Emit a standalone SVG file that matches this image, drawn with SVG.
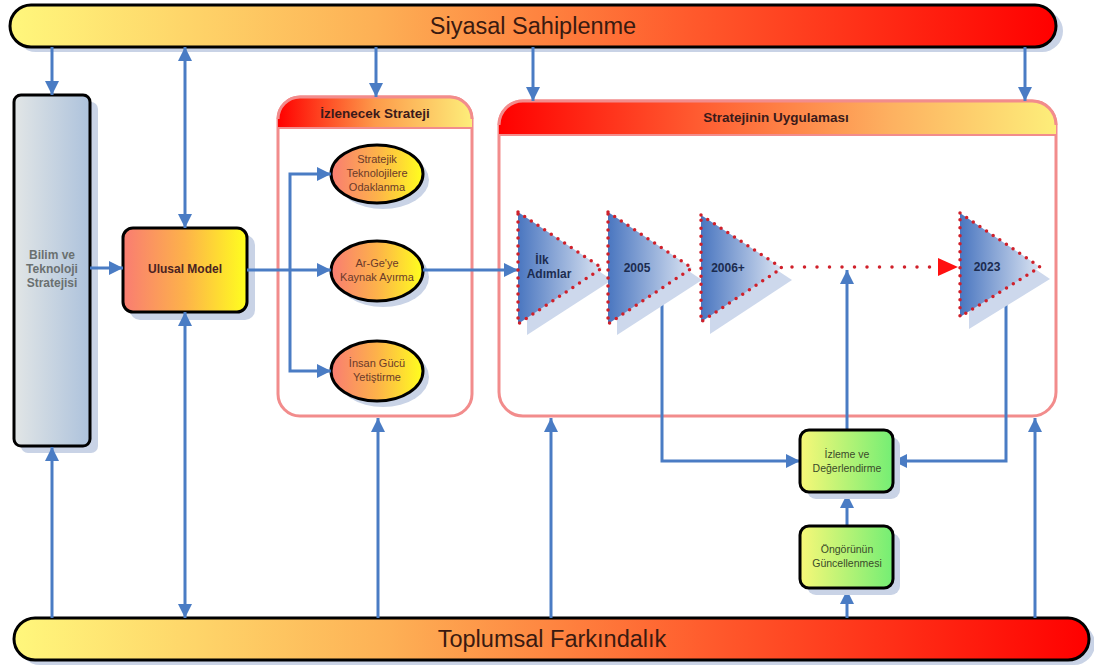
<svg xmlns="http://www.w3.org/2000/svg" width="1094" height="666" viewBox="0 0 1094 666">
<defs>
<linearGradient id="bar" x1="0" y1="0" x2="1" y2="0">
<stop offset="0" stop-color="#fff77c"/><stop offset="0.35" stop-color="#fdb055"/><stop offset="0.65" stop-color="#ff5a2c"/><stop offset="1" stop-color="#ff0000"/>
</linearGradient>
<linearGradient id="gray" x1="0" y1="0" x2="1" y2="0">
<stop offset="0" stop-color="#e2e6e6"/><stop offset="1" stop-color="#adc2dc"/>
</linearGradient>
<linearGradient id="warm" x1="0" y1="0" x2="1" y2="0">
<stop offset="0" stop-color="#f97c72"/><stop offset="0.5" stop-color="#fdb24a"/><stop offset="1" stop-color="#ffff1e"/>
</linearGradient>
<linearGradient id="green" x1="0" y1="0" x2="1" y2="0">
<stop offset="0" stop-color="#f8f878"/><stop offset="1" stop-color="#74ee74"/>
</linearGradient>
<linearGradient id="hdr1" x1="0" y1="0" x2="1" y2="0">
<stop offset="0" stop-color="#ff0000"/><stop offset="0.5" stop-color="#fd9a4a"/><stop offset="1" stop-color="#fdee7a"/>
</linearGradient>
<linearGradient id="hdr2" x1="0" y1="0" x2="1" y2="0">
<stop offset="0" stop-color="#ff0000"/><stop offset="0.35" stop-color="#ff5a30"/><stop offset="0.7" stop-color="#fdb060"/><stop offset="1" stop-color="#fdee7a"/>
</linearGradient>
<linearGradient id="tri" x1="0" y1="0" x2="1" y2="0">
<stop offset="0" stop-color="#4a76c0"/><stop offset="1" stop-color="#dbe4f2"/>
</linearGradient>
<marker id="ah" viewBox="0 0 10 10" refX="10" refY="5" markerWidth="14" markerHeight="14" markerUnits="userSpaceOnUse" orient="auto-start-reverse">
<path d="M0,0 L10,5 L0,10 z" fill="#4a7cc4"/>
</marker>
<style>
.blk{stroke:#000;stroke-width:3}
.sh{fill:#c9d3e6}
.cont{fill:#fff;stroke:#f28c8c;stroke-width:3}
.outl{fill:none;stroke:#f28c8c;stroke-width:3}
.c{stroke:#4a7cc4;stroke-width:3;fill:none}
.bar{font-family:"Liberation Sans",Arial,sans-serif;font-size:23.5px;fill:#3a1a10;text-anchor:middle}
.lb{font-family:"Liberation Sans",Arial,sans-serif;font-size:12px;font-weight:bold;fill:#4a2222;text-anchor:middle}
.hd{font-family:"Liberation Sans",Arial,sans-serif;font-size:13.5px;font-weight:bold;fill:#3a1a1a;text-anchor:middle}
.gl{font-family:"Liberation Sans",Arial,sans-serif;font-size:12px;font-weight:bold;fill:#6a7070;text-anchor:middle}
.sm{font-family:"Liberation Sans",Arial,sans-serif;font-size:11px;fill:#6a3a2a;text-anchor:middle}
.gr{font-family:"Liberation Sans",Arial,sans-serif;font-size:10.5px;fill:#3a4a2a;text-anchor:middle}
.tl{font-family:"Liberation Sans",Arial,sans-serif;font-size:12px;font-weight:bold;fill:#1c2c50;text-anchor:middle}
.tri{fill:url(#tri);stroke:#d0202a;stroke-width:3.5;stroke-dasharray:0 8;stroke-linecap:round}
.trish{fill:#cdd8ec}
</style>
</defs>
<rect width="1094" height="666" fill="#fff"/>

<g id="top-bar">
<rect class="sh" x="15" y="10" width="1048" height="42" rx="21"/>
<rect class="blk" x="10" y="5" width="1046" height="42" rx="21" fill="url(#bar)"/>
<text class="bar" x="533" y="34">Siyasal Sahiplenme</text>
</g>

<g id="bottom-bar">
<rect class="sh" x="19" y="623" width="1076" height="42" rx="21"/>
<rect class="blk" x="14" y="618" width="1075" height="42" rx="21" fill="url(#bar)"/>
<text class="bar" x="552" y="647">Toplumsal Farkındalık</text>
</g>

<g id="bilim">
<rect class="sh" x="21" y="102" width="77" height="351" rx="7"/>
<rect class="blk" x="14" y="95" width="76" height="351" rx="7" fill="url(#gray)"/>
<text class="gl" x="52" y="259">Bilim ve</text>
<text class="gl" x="52" y="273">Teknoloji</text>
<text class="gl" x="52" y="287">Stratejisi</text>
</g>

<g id="ulusal-model">
<rect class="sh" x="130" y="235" width="125" height="85" rx="10"/>
<rect class="blk" x="123" y="228" width="124" height="84" rx="10" fill="url(#warm)"/>
<text class="lb" x="185" y="273">Ulusal Model</text>
</g>

<g id="izlenecek">
<rect class="cont" x="278" y="97" width="194" height="319" rx="22"/>
<path d="M278,128 V119 A22,22 0 0 1 300,97 H450 A22,22 0 0 1 472,119 V128 Z" fill="url(#hdr1)"/>
<path d="M278,128 H472" stroke="#f28c8c" stroke-width="2"/>
<path class="outl" d="M278,119 A22,22 0 0 1 300,97 H450 A22,22 0 0 1 472,119"/>
<text class="hd" x="375" y="118">İzlenecek Strateji</text>
</g>

<g id="stratejik">
<ellipse class="sh" cx="383" cy="180" rx="46" ry="29"/>
<ellipse class="blk" cx="377" cy="174" rx="46" ry="29" fill="url(#warm)"/>
<text class="sm" x="377" y="163">Stratejik</text>
<text class="sm" x="377" y="177">Teknolojilere</text>
<text class="sm" x="377" y="191">Odaklanma</text>
</g>
<g id="arge">
<ellipse class="sh" cx="383" cy="277" rx="46" ry="30"/>
<ellipse class="blk" cx="377" cy="271" rx="46" ry="30" fill="url(#warm)"/>
<text class="sm" x="377" y="267">Ar-Ge'ye</text>
<text class="sm" x="377" y="281">Kaynak Ayırma</text>
</g>
<g id="insan">
<ellipse class="sh" cx="383" cy="377" rx="46" ry="30"/>
<ellipse class="blk" cx="377" cy="371" rx="46" ry="30" fill="url(#warm)"/>
<text class="sm" x="377" y="367">İnsan Gücü</text>
<text class="sm" x="377" y="381">Yetiştirme</text>
</g>

<g id="uygulama">
<rect class="cont" x="499" y="101" width="557" height="315" rx="24"/>
<path d="M499,135 V125 A24,24 0 0 1 523,101 H1032 A24,24 0 0 1 1056,125 V135 Z" fill="url(#hdr2)"/>
<path d="M499,135 H1056" stroke="#f28c8c" stroke-width="2"/>
<path class="outl" d="M499,125 A24,24 0 0 1 523,101 H1032 A24,24 0 0 1 1056,125"/>
<text class="hd" x="776" y="122">Stratejinin Uygulaması</text>
</g>

<g id="connectors">
<path class="c" d="M52,47 V95" marker-end="url(#ah)"/>
<path class="c" d="M185,47 V228" marker-start="url(#ah)" marker-end="url(#ah)"/>
<path class="c" d="M376,47 V97" marker-end="url(#ah)"/>
<path class="c" d="M533,47 V101" marker-end="url(#ah)"/>
<path class="c" d="M1025,47 V101" marker-end="url(#ah)"/>
<path class="c" d="M52,618 V447" marker-end="url(#ah)"/>
<path class="c" d="M185,312 V618" marker-start="url(#ah)" marker-end="url(#ah)"/>
<path class="c" d="M378,618 V418" marker-end="url(#ah)"/>
<path class="c" d="M551,618 V418" marker-end="url(#ah)"/>
<path class="c" d="M1035,618 V418" marker-end="url(#ah)"/>
<path class="c" d="M847,618 V590" marker-end="url(#ah)"/>
<path class="c" d="M847,526 V494" marker-end="url(#ah)"/>
<path class="c" d="M847,430 V270" marker-end="url(#ah)"/>
<path class="c" d="M90,268 H123" marker-end="url(#ah)"/>
<path class="c" d="M247,270 H331" marker-end="url(#ah)"/>
<path class="c" d="M290,270 V174 H331" marker-end="url(#ah)"/>
<path class="c" d="M290,270 V371 H331" marker-end="url(#ah)"/>
<path class="c" d="M423,270 H518" marker-end="url(#ah)"/>
<path class="c" d="M662,290 V461 H800" marker-end="url(#ah)"/>
<path class="c" d="M1006,290 V461 H893" marker-end="url(#ah)"/>
<path d="M792,267 H940" fill="none" stroke="#d0202a" stroke-width="3.5" stroke-dasharray="0 12.5" stroke-linecap="round"/>
<path d="M938,258 L958,267 L938,276 Z" fill="#ff1010"/>
</g>

<g id="ilk">
<path class="trish" d="M527,223 L612,280 L527,335 Z"/>
<path class="tri" d="M518,212 L602,268 L518,324 Z"/>
<text class="tl" x="542" y="264">İlk</text>
<text class="tl" x="549" y="278">Adımlar</text>
</g>
<g id="y2005">
<path class="trish" d="M617,223 L702,280 L617,335 Z"/>
<path class="tri" d="M608,212 L692,268 L608,324 Z"/>
<text class="tl" x="637" y="272">2005</text>
</g>
<g id="y2006">
<path class="trish" d="M710,226 L792,280 L710,334 Z"/>
<path class="tri" d="M701,215 L782,268 L701,322 Z"/>
<text class="tl" x="728" y="272">2006+</text>
</g>
<g id="y2023">
<path class="trish" d="M969,224 L1050,279 L969,329 Z"/>
<path class="tri" d="M960,213 L1040,267 L960,317 Z"/>
<text class="tl" x="987" y="271">2023</text>
</g>

<g id="izleme">
<rect class="sh" x="807" y="437" width="93" height="62" rx="9"/>
<rect class="blk" x="800" y="430" width="93" height="62" rx="9" fill="url(#green)"/>
<text class="gr" x="847" y="458">İzleme ve</text>
<text class="gr" x="847" y="472">Değerlendirme</text>
</g>
<g id="ongoru">
<rect class="sh" x="807" y="533" width="93" height="62" rx="9"/>
<rect class="blk" x="800" y="526" width="93" height="62" rx="9" fill="url(#green)"/>
<text class="gr" x="847" y="553">Öngörünün</text>
<text class="gr" x="847" y="567">Güncellenmesi</text>
</g>
</svg>
